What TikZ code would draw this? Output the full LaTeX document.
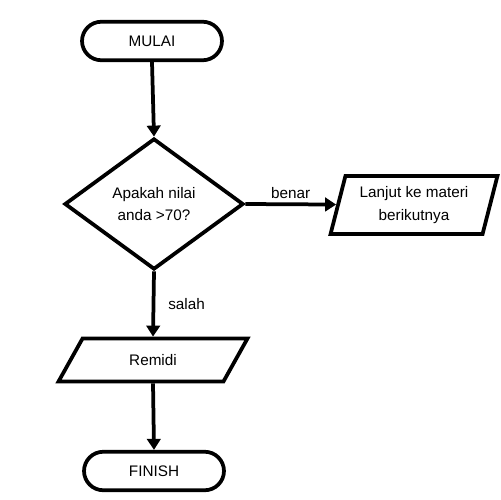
\documentclass[tikz,border=0pt]{standalone}
\usepackage{fontspec}
\setmainfont{Liberation Sans}
\usetikzlibrary{shapes.geometric,shapes.misc,arrows.meta}
\begin{document}
\begin{tikzpicture}[x=0.02cm, y=-0.02cm,
  font=\fontsize{8.7}{12.8}\selectfont,
  base/.style={draw=black, line width=0.075cm, fill=white, align=center, inner sep=2pt},
  terminal/.style={base, rounded rectangle, minimum width=2.94cm, minimum height=0.77cm},
  decision/.style={base, diamond, minimum width=3.58cm, minimum height=2.6cm},
  io/.style={base, trapezium, trapezium stretches=true},
  flow/.style={-{Triangle[length=0.22cm, width=0.27cm]}, line width=0.075cm},
  lbl/.style={font=\fontsize{8.7}{10}\selectfont},
]
\useasboundingbox (0,0) rectangle (500,500);

\node[terminal] (mulai) at (152,41) {MULAI};
\node[decision] (cek) at (154,204) {Apakah nilai\\anda >70?};
\node[io, trapezium left angle=74, trapezium right angle=106,
      minimum width=3.36cm, minimum height=1.16cm] (lanjut) at (414,205) {Lanjut ke materi\\berikutnya};
\node[io, trapezium left angle=63, trapezium right angle=117,
      minimum width=3.78cm, minimum height=0.86cm] (remidi) at (153,360) {Remidi};
\node[terminal] (finish) at (154,471) {FINISH};

\draw[flow] (mulai.south) -- (cek.north);
\draw[flow] (cek.east) -- (lanjut) node[lbl, midway, above=-1pt] {benar};
\draw[flow] (cek.south) -- (remidi.north) node[lbl, midway, right=4pt] {salah};
\draw[flow] (remidi.south) -- (finish.north);
\end{tikzpicture}
\end{document}
